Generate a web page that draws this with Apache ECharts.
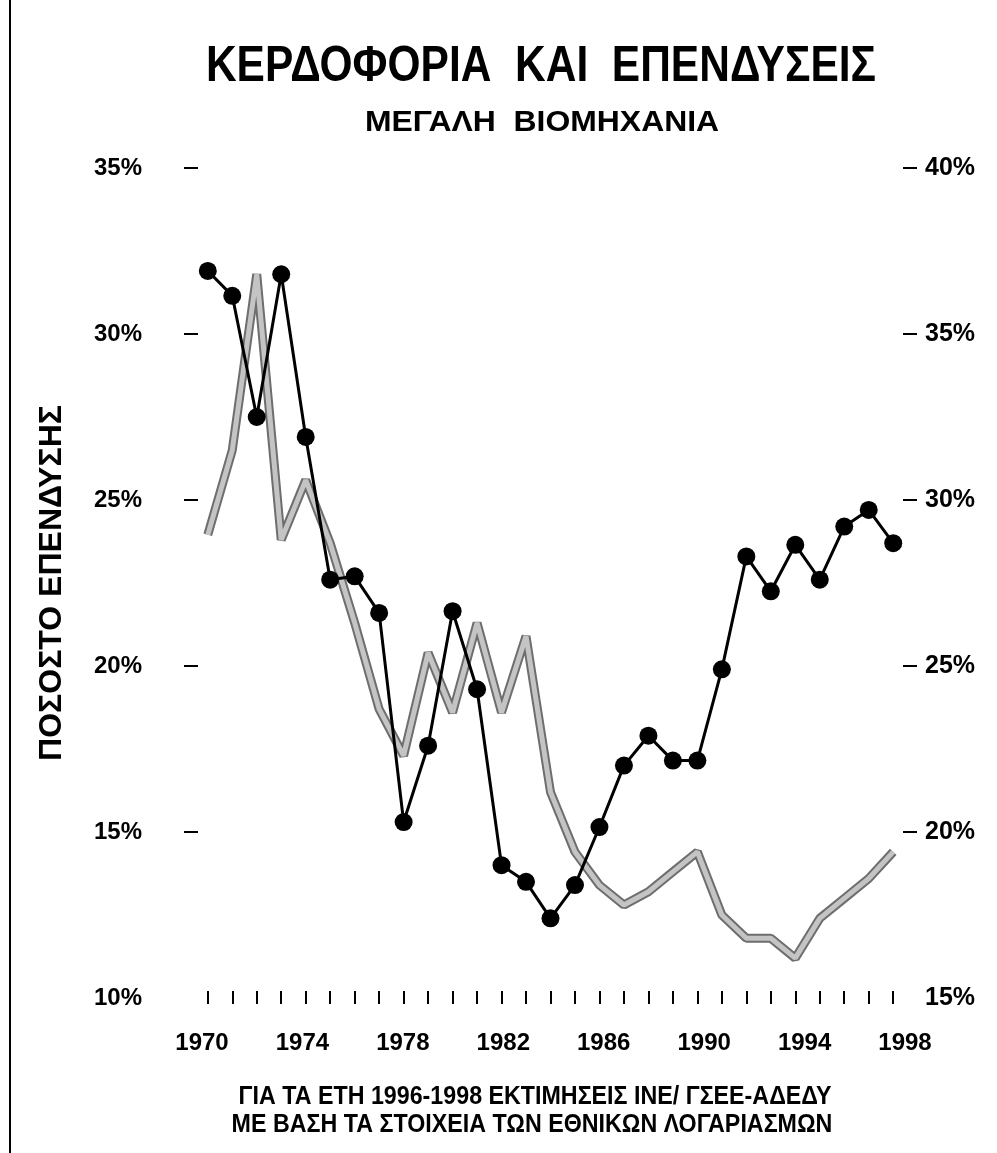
<!DOCTYPE html>
<html>
<head>
<meta charset="utf-8">
<script src="https://cdn.jsdelivr.net/npm/echarts@6/dist/echarts.min.js"></script>
<style>
  html, body { margin: 0; padding: 0; background: #fff; }
  #chart { width: 997px; height: 1153px; }
</style>
</head>
<body>
<div id="chart"></div>
<script>
// years on the x axis
var years = [1970, 1971, 1972, 1973, 1974, 1975, 1976, 1977, 1978, 1979,
             1980, 1981, 1982, 1983, 1984, 1985, 1986, 1987, 1988, 1989,
             1990, 1991, 1992, 1993, 1994, 1995, 1996, 1997, 1998];
var yearLabels = [1970, 1974, 1978, 1982, 1986, 1990, 1994, 1998];

// black line with dots, left axis (ποσοστο επενδυσης)
var investment = [31.9, 31.15, 27.5, 31.8, 26.9, 22.6, 22.7, 21.6, 15.3, 17.6,
                  21.65, 19.3, 14.0, 13.5, 12.4, 13.4, 15.15, 17.0, 17.9, 17.15,
                  17.15, 19.9, 23.3, 22.25, 23.65, 22.6, 24.2, 24.7, 23.7];

// grey band, right axis (κερδοφορια)
var profitability = [28.95, 31.5, 36.8, 28.8, 30.6, 28.7, 26.3, 23.7, 22.3, 25.4,
                     23.6, 26.3, 23.6, 25.9, 21.2, 19.4, 18.4, 17.8, 18.2, 18.8,
                     19.4, 17.5, 16.8, 16.8, 16.2, 17.4, 18.0, 18.6, 19.4];

var leftTicks = [15, 20, 25, 30, 35];
var rightTicks = [20, 25, 30, 35, 40];

var FONT = 'Liberation Sans, Arial, sans-serif';

var chartDom = document.getElementById('chart');
var myChart = echarts.init(chartDom);

var pairs = function (vals) {
    return years.map(function (y, i) { return [y, vals[i]]; });
};

// narrow bold text, like the condensed face of the original
var narrowText = function (text, x, y, size, sx) {
    return {
        type: 'text', x: x, y: y, scaleX: sx,
        style: {
            text: text, fill: '#000',
            font: 'bold ' + size + 'px ' + FONT,
            textAlign: 'center', textVerticalAlign: 'middle'
        }
    };
};

var option = {
    backgroundColor: '#fff',
    animation: false,
    graphic: [
        {
            type: 'line',
            shape: { x1: 10, y1: 0, x2: 10, y2: 1153 },
            style: { stroke: '#000', lineWidth: 2 }
        },
        narrowText('ΚΕΡΔΟΦΟΡΙΑ  ΚΑΙ  ΕΠΕΝΔΥΣΕΙΣ', 541, 67, 50, 0.85),
        narrowText('ΜΕΓΑΛΗ  ΒΙΟΜΗΧΑΝΙΑ', 542, 123, 29, 1.1),
        narrowText('ΓΙΑ ΤΑ ΕΤΗ 1996-1998 ΕΚΤΙΜΗΣΕΙΣ ΙΝΕ/ ΓΣΕΕ-ΑΔΕΔΥ', 535, 1097, 25, 0.93),
        narrowText('ΜΕ ΒΑΣΗ ΤΑ ΣΤΟΙΧΕΙΑ ΤΩΝ ΕΘΝΙΚΩΝ ΛΟΓΑΡΙΑΣΜΩΝ', 532, 1125, 25, 0.93)
    ],
    grid: [
        { left: 198, right: 94, top: 168, bottom: 155 },
        // only carries the year labels
        { left: 202, right: 92, top: 168, bottom: 155 }
    ],
    xAxis: [
        {
            type: 'value', gridIndex: 0,
            min: 1969.6, max: 1998.4,
            offset: -7,
            splitLine: { show: false },
            axisLine: { show: false },
            axisLabel: { show: false },
            axisTick: {
                show: true, length: 13, customValues: years,
                lineStyle: { color: '#000', width: 2 }
            }
        },
        {
            type: 'value', gridIndex: 1,
            min: 1970, max: 1998,
            splitLine: { show: false },
            axisLine: { show: false },
            axisTick: { show: false },
            axisLabel: {
                customValues: yearLabels, margin: 33,
                formatter: function (v) { return String(v); },
                fontFamily: FONT, fontSize: 24, fontWeight: 'bold', color: '#000'
            }
        }
    ],
    yAxis: [
        {
            type: 'value', gridIndex: 0, position: 'left',
            min: 10, max: 35, interval: 5,
            name: 'ΠΟΣΟΣΤΟ ΕΠΕΝΔΥΣΗΣ',
            nameLocation: 'middle', nameGap: 130,
            nameTextStyle: { fontFamily: FONT, fontSize: 32, fontWeight: 'bold', color: '#000' },
            splitLine: { show: false },
            axisLine: { show: false },
            axisTick: {
                show: true, length: 14, customValues: leftTicks,
                lineStyle: { color: '#000', width: 2 }
            },
            axisLabel: {
                formatter: '{value}%', margin: 56,
                fontFamily: FONT, fontSize: 24, fontWeight: 'bold', color: '#000'
            }
        },
        {
            type: 'value', gridIndex: 0, position: 'right',
            min: 15, max: 40, interval: 5,
            splitLine: { show: false },
            axisLine: { show: false },
            axisTick: {
                show: true, length: 14, customValues: rightTicks,
                lineStyle: { color: '#000', width: 2 }
            },
            axisLabel: {
                formatter: '{value}%', margin: 22,
                fontFamily: FONT, fontSize: 25, fontWeight: 'bold', color: '#000'
            }
        },
        { type: 'value', gridIndex: 1, show: false, min: 0, max: 1 }
    ],
    series: [
        {
            // dark edge of the grey band
            name: 'Κερδοφορία',
            type: 'line',
            xAxisIndex: 0, yAxisIndex: 1,
            data: pairs(profitability),
            symbol: 'none',
            lineStyle: { color: '#6e6e6e', width: 9 },
            z: 2
        },
        {
            name: 'Κερδοφορία',
            type: 'line',
            xAxisIndex: 0, yAxisIndex: 1,
            data: pairs(profitability),
            symbol: 'none',
            lineStyle: { color: '#c4c4c4', width: 5 },
            z: 2
        },
        {
            name: 'Επενδύσεις',
            type: 'line',
            xAxisIndex: 0, yAxisIndex: 0,
            data: pairs(investment),
            symbol: 'circle',
            symbolSize: 18,
            lineStyle: { color: '#000', width: 3 },
            itemStyle: { color: '#000' },
            z: 3
        }
    ]
};

myChart.setOption(option);
</script>
</body>
</html>
